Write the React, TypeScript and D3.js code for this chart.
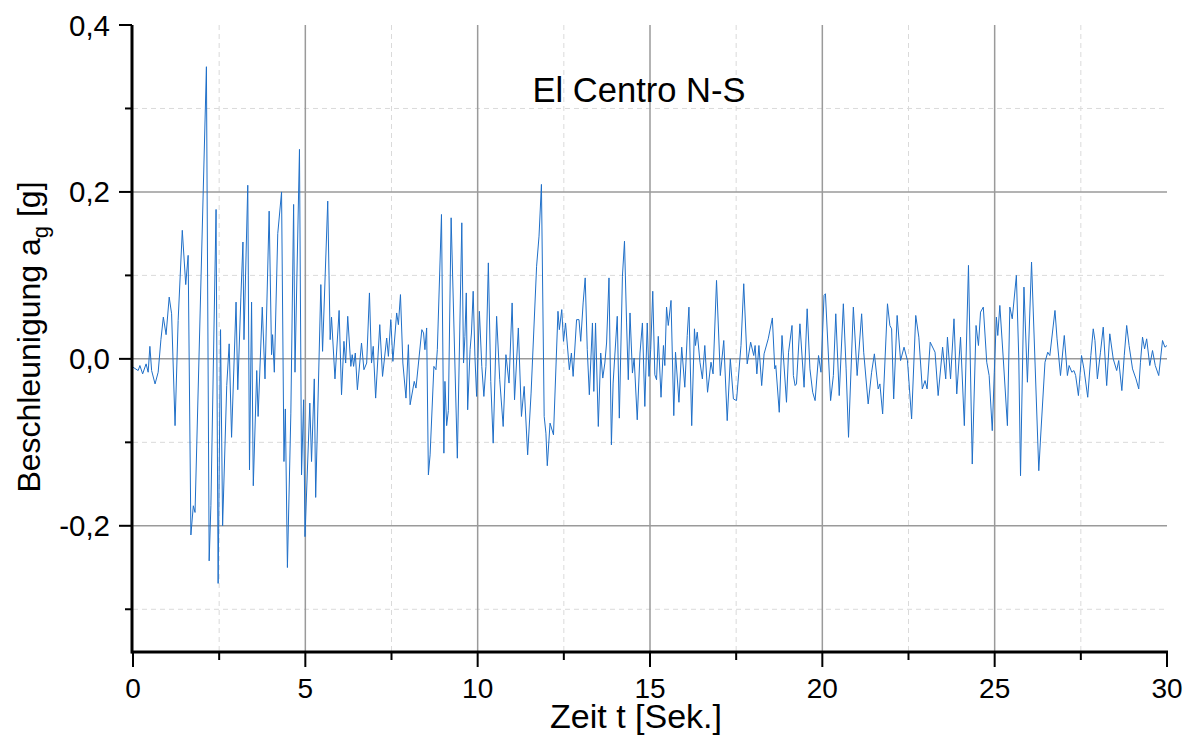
import * as d3 from 'd3';
import React, { useEffect, useRef } from 'react';

// Umkehrpunkte des Beschleunigungsverlaufs [t in s, a in g]
const messpunkte: [number, number][] = [
  [0.00,-0.010],[0.15,-0.014],[0.20,-0.008],[0.28,-0.018],[0.38,-0.006],[0.44,-0.016],[0.49,0.015],[0.54,-0.014],
  [0.64,-0.030],[0.73,-0.016],[0.81,0.023],[0.88,0.050],[0.96,0.029],[1.05,0.074],[1.12,0.054],[1.22,-0.080],
  [1.31,0.046],[1.43,0.154],[1.53,0.089],[1.60,0.124],[1.68,-0.211],[1.75,-0.176],[1.80,-0.184],[2.13,0.350],
  [2.21,-0.242],[2.26,-0.176],[2.41,0.179],[2.47,-0.269],[2.54,0.035],[2.60,-0.200],[2.72,-0.032],[2.79,0.018],
  [2.86,-0.094],[2.99,0.068],[3.04,-0.037],[3.13,0.074],[3.19,0.140],[3.22,0.023],[3.33,0.208],[3.38,-0.133],
  [3.44,0.068],[3.49,-0.152],[3.59,-0.014],[3.63,-0.069],[3.75,0.062],[3.83,-0.024],[3.95,0.177],[4.02,0.005],
  [4.05,0.029],[4.10,-0.016],[4.20,0.150],[4.31,0.200],[4.38,-0.123],[4.42,-0.060],[4.48,-0.250],[4.58,-0.065],
  [4.66,0.185],[4.70,-0.016],[4.83,0.251],[4.89,-0.139],[4.95,-0.049],[4.99,-0.213],[5.13,-0.053],[5.18,-0.123],
  [5.26,-0.024],[5.30,-0.166],[5.45,0.089],[5.50,0.009],[5.65,0.189],[5.72,0.023],[5.76,0.050],[5.86,-0.024],
  [5.98,0.058],[6.05,-0.043],[6.12,0.021],[6.17,-0.005],[6.23,0.051],[6.32,-0.009],[6.36,0.005],[6.40,-0.009],
  [6.45,0.007],[6.51,-0.037],[6.63,0.019],[6.70,-0.013],[6.78,-0.005],[6.86,0.079],[6.92,-0.005],[6.97,0.015],
  [7.04,-0.047],[7.16,0.041],[7.24,-0.021],[7.36,0.025],[7.41,0.003],[7.48,0.047],[7.54,-0.003],[7.65,0.055],
  [7.70,0.041],[7.76,0.077],[7.83,-0.005],[7.92,-0.047],[7.99,0.017],[8.04,-0.055],[8.16,-0.027],[8.21,-0.035],
  [8.38,0.035],[8.43,0.031],[8.47,0.011],[8.52,0.037],[8.57,-0.139],[8.62,-0.115],[8.73,-0.009],[8.79,-0.013],
  [8.83,0.011],[8.95,0.173],[9.02,-0.113],[9.05,-0.027],[9.10,-0.080],[9.15,-0.062],[9.23,0.169],[9.41,-0.119],
  [9.54,0.163],[9.59,-0.005],[9.63,0.027],[9.67,0.079],[9.71,-0.061],[9.78,0.011],[9.82,0.031],[9.87,0.081],
  [9.92,0.003],[9.97,-0.045],[10.05,0.057],[10.12,-0.009],[10.18,-0.045],[10.24,-0.009],[10.31,0.115],[10.38,-0.027],
  [10.45,-0.101],[10.55,0.051],[10.64,-0.025],[10.74,-0.081],[10.82,0.005],[10.91,-0.029],[11.00,0.067],[11.07,-0.049],
  [11.18,0.037],[11.27,-0.069],[11.35,-0.033],[11.45,-0.115],[11.55,-0.041],[11.71,0.111],[11.78,0.147],[11.85,0.209],
  [11.93,-0.069],[11.98,-0.089],[12.02,-0.128],[12.10,-0.077],[12.20,-0.091],[12.33,0.057],[12.37,0.035],[12.44,0.059],
  [12.49,0.021],[12.55,0.043],[12.66,-0.013],[12.72,0.007],[12.77,-0.021],[12.87,0.047],[12.94,0.047],[12.99,0.021],
  [13.06,0.067],[13.12,0.097],[13.18,0.011],[13.24,-0.043],[13.33,0.043],[13.37,-0.039],[13.42,0.043],[13.50,-0.081],
  [13.57,0.007],[13.63,-0.023],[13.69,-0.005],[13.74,0.019],[13.81,0.097],[13.88,-0.103],[13.93,-0.029],[14.05,0.051],
  [14.11,-0.071],[14.20,0.099],[14.26,0.141],[14.32,0.043],[14.37,-0.025],[14.42,0.055],[14.49,-0.017],[14.54,0.001],
  [14.63,-0.073],[14.71,0.007],[14.78,0.043],[14.85,-0.057],[14.92,0.043],[14.97,-0.021],[15.02,0.011],[15.08,0.081],
  [15.14,-0.019],[15.19,-0.025],[15.24,0.027],[15.32,-0.046],[15.39,0.016],[15.43,-0.008],[15.48,0.062],[15.53,0.040],
  [15.61,0.070],[15.69,-0.068],[15.74,0.008],[15.84,-0.052],[15.92,0.014],[16.01,-0.034],[16.08,0.028],[16.13,0.062],
  [16.21,-0.080],[16.29,0.036],[16.32,0.016],[16.37,0.032],[16.45,-0.004],[16.52,-0.024],[16.59,0.016],[16.67,-0.040],
  [16.77,-0.004],[16.83,-0.018],[16.93,0.094],[17.04,-0.020],[17.14,0.022],[17.24,-0.074],[17.33,0.000],[17.42,-0.048],
  [17.51,-0.050],[17.64,0.016],[17.72,0.090],[17.82,-0.006],[17.92,0.020],[18.01,0.004],[18.05,0.016],[18.10,-0.018],
  [18.16,0.016],[18.24,-0.032],[18.31,0.006],[18.43,0.024],[18.55,0.049],[18.62,-0.012],[18.65,-0.008],[18.75,-0.064],
  [18.83,0.028],[18.96,-0.052],[19.02,0.008],[19.12,0.040],[19.16,-0.020],[19.21,-0.032],[19.25,-0.030],[19.35,0.042],
  [19.47,-0.034],[19.56,0.060],[19.64,-0.012],[19.72,-0.040],[19.79,-0.050],[19.89,0.004],[19.96,-0.016],[20.05,0.076],
  [20.09,0.078],[20.24,-0.050],[20.32,-0.020],[20.39,0.054],[20.49,-0.044],[20.61,0.066],[20.69,-0.012],[20.76,-0.094],
  [20.90,0.062],[21.01,-0.020],[21.14,0.054],[21.20,0.008],[21.33,-0.054],[21.43,-0.016],[21.51,0.006],[21.62,-0.036],
  [21.67,-0.030],[21.75,-0.066],[21.89,0.066],[21.96,0.040],[22.01,0.036],[22.07,-0.048],[22.17,0.052],[22.27,-0.002],
  [22.37,0.014],[22.47,-0.002],[22.59,-0.072],[22.71,0.052],[22.80,0.026],[22.90,-0.036],[22.98,-0.026],[23.04,-0.036],
  [23.13,0.020],[23.27,0.008],[23.36,-0.044],[23.49,0.014],[23.58,-0.024],[23.63,0.026],[23.72,-0.024],[23.82,0.048],
  [23.90,-0.042],[24.01,0.026],[24.12,-0.080],[24.24,0.112],[24.35,-0.126],[24.46,0.040],[24.53,0.016],[24.59,0.056],
  [24.67,0.062],[24.77,-0.004],[24.84,-0.020],[24.93,-0.086],[24.99,-0.016],[25.05,0.050],[25.09,0.028],[25.15,0.064],
  [25.25,0.000],[25.37,-0.080],[25.44,0.062],[25.51,0.048],[25.63,0.100],[25.70,0.000],[25.75,-0.140],[25.85,0.086],
  [25.95,-0.028],[26.07,0.116],[26.28,-0.134],[26.33,-0.096],[26.46,-0.004],[26.54,0.008],[26.60,0.004],[26.75,0.058],
  [26.81,0.024],[26.91,-0.020],[27.02,0.028],[27.11,-0.020],[27.16,-0.008],[27.24,-0.016],[27.30,-0.014],[27.35,-0.020],
  [27.43,-0.044],[27.52,0.004],[27.59,-0.012],[27.70,-0.046],[27.79,0.004],[27.86,0.036],[27.91,0.022],[27.98,-0.024],
  [28.07,0.008],[28.15,0.038],[28.25,-0.032],[28.34,0.030],[28.44,0.000],[28.54,-0.014],[28.60,-0.002],[28.69,-0.038],
  [28.76,0.004],[28.83,0.040],[28.90,0.016],[29.00,-0.012],[29.10,-0.024],[29.18,-0.036],[29.23,-0.004],[29.29,0.026],
  [29.35,0.012],[29.41,0.024],[29.50,-0.008],[29.58,0.010],[29.66,-0.008],[29.76,-0.020],[29.87,0.022],[29.94,0.014],
  [30.00,0.016],
];

const xMajor = [0, 5, 10, 15, 20, 25, 30];
const xMinor = [2.5, 7.5, 12.5, 17.5, 22.5, 27.5];
const yMajor = [-0.2, 0, 0.2, 0.4];
const yMinor = [-0.3, -0.1, 0.1, 0.3];

const titel = 'El Centro N-S';
const xTitel = 'Zeit t [Sek.]';

const font = '"Liberation Sans", Arial, sans-serif';

export default function App() {
  const ref = useRef<SVGSVGElement>(null);

  useEffect(() => {
    const width = 1189;
    const height = 736;
    const left = 133, right = 1167, top = 25, bottom = 651;

    const svg = d3.select(ref.current);
    svg.selectAll('*').remove();

    const x = d3.scaleLinear().domain([0, 30]).range([left, right]);
    const y = d3.scaleLinear().domain([-0.35, 0.4]).range([bottom, top]);

    svg.append('rect').attr('width', width).attr('height', height).attr('fill', 'white');

    // minor grid (dashed)
    svg.append('g').selectAll('line').data(xMinor).enter().append('line')
      .attr('x1', d => x(d)).attr('x2', d => x(d)).attr('y1', top).attr('y2', bottom)
      .attr('stroke', '#dadada').attr('stroke-width', 1).attr('stroke-dasharray', '5,4');
    svg.append('g').selectAll('line').data(yMinor).enter().append('line')
      .attr('x1', left).attr('x2', right).attr('y1', d => y(d)).attr('y2', d => y(d))
      .attr('stroke', '#dadada').attr('stroke-width', 1).attr('stroke-dasharray', '5,4');

    // major grid
    svg.append('g').selectAll('line').data(xMajor.filter(d => d > 0 && d < 30)).enter().append('line')
      .attr('x1', d => x(d)).attr('x2', d => x(d)).attr('y1', top).attr('y2', bottom)
      .attr('stroke', '#9a9a9a').attr('stroke-width', 1.5);
    svg.append('g').selectAll('line').data(yMajor.filter(d => d < 0.4)).enter().append('line')
      .attr('x1', left).attr('x2', right).attr('y1', d => y(d)).attr('y2', d => y(d))
      .attr('stroke', '#9a9a9a').attr('stroke-width', 1.5);

    // the signal
    const line = d3.line<[number, number]>()
      .x(d => x(d[0]))
      .y(d => y(d[1]));
    svg.append('path')
      .datum(messpunkte)
      .attr('d', line)
      .attr('fill', 'none')
      .attr('stroke', '#1f6fc8')
      .attr('stroke-width', 1)
      .attr('stroke-linejoin', 'round');

    // axes
    const xAxis = svg.append('g').attr('transform', `translate(0,${bottom + 1})`);
    xAxis.append('line').attr('x1', left - 1.5).attr('x2', right + 1).attr('stroke', 'black').attr('stroke-width', 3);
    xAxis.selectAll('.maj').data(xMajor).enter().append('line')
      .attr('x1', d => x(d)).attr('x2', d => x(d)).attr('y1', 0).attr('y2', 15)
      .attr('stroke', 'black').attr('stroke-width', 2);
    xAxis.selectAll('.min').data(xMinor).enter().append('line')
      .attr('x1', d => x(d)).attr('x2', d => x(d)).attr('y1', 0).attr('y2', 8)
      .attr('stroke', 'black').attr('stroke-width', 2);
    xAxis.selectAll('text').data(xMajor).enter().append('text')
      .attr('x', d => x(d)).attr('y', 46)
      .attr('text-anchor', 'middle')
      .attr('font-family', font).attr('font-size', 28)
      .text(d => String(d));

    const yAxis = svg.append('g').attr('transform', `translate(${left - 1},0)`);
    yAxis.append('line').attr('y1', top).attr('y2', bottom + 2.5).attr('stroke', 'black').attr('stroke-width', 3);
    yAxis.selectAll('.maj').data(yMajor).enter().append('line')
      .attr('y1', d => y(d)).attr('y2', d => y(d)).attr('x1', -13).attr('x2', 0)
      .attr('stroke', 'black').attr('stroke-width', 2);
    yAxis.selectAll('.min').data(yMinor).enter().append('line')
      .attr('y1', d => y(d)).attr('y2', d => y(d)).attr('x1', -7).attr('x2', 0)
      .attr('stroke', 'black').attr('stroke-width', 2);
    yAxis.selectAll('text').data(yMajor).enter().append('text')
      .attr('x', -22).attr('y', d => y(d) + 10.5)
      .attr('text-anchor', 'end')
      .attr('font-family', font).attr('font-size', 29.5)
      .text(d => d3.format('.1f')(d).replace('.', ',').replace('−', '-'));

    // axis titles
    svg.append('text')
      .attr('x', 636).attr('y', 728)
      .attr('text-anchor', 'middle')
      .attr('font-family', font).attr('font-size', 34)
      .text(xTitel);

    const yt = svg.append('text')
      .attr('transform', `translate(40,${337}) rotate(-90)`)
      .attr('text-anchor', 'middle')
      .attr('font-family', font).attr('font-size', 32);
    yt.append('tspan').text('Beschleunigung a');
    yt.append('tspan').attr('font-size', 22).attr('dy', 8).text('g');
    yt.append('tspan').attr('dy', -8).text(' [g]');

    // chart title
    svg.append('text')
      .attr('x', 639).attr('y', 102)
      .attr('text-anchor', 'middle')
      .attr('font-family', font).attr('font-size', 34.5)
      .text(titel);
  }, []);

  return (
    <svg
      ref={ref}
      width={1189}
      height={736}
      style={{ position: 'absolute', left: 0, top: 0 }}
    />
  );
}
